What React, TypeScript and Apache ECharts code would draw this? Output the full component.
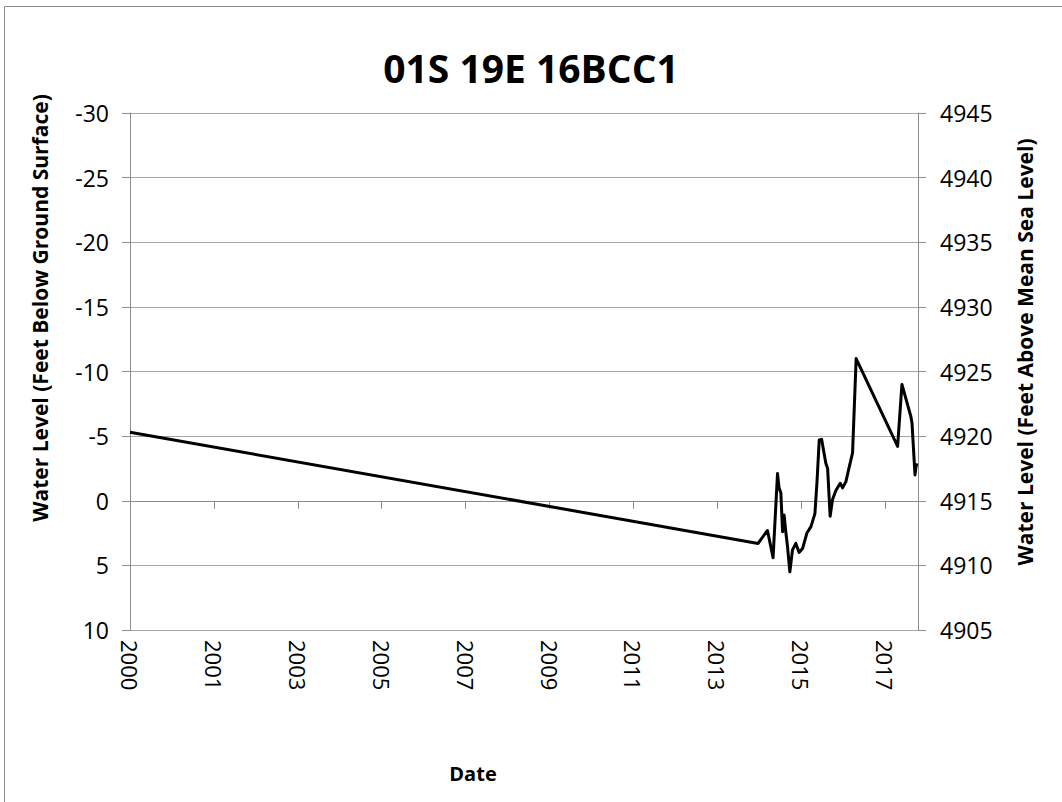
import React, { useEffect, useRef } from "react";
import * as echarts from "echarts";

const TITLE = "01S 19E 16BCC1";
const X_NAME = "Date";
const LEFT_NAME = "Water Level (Feet Below Ground Surface)";
const RIGHT_NAME = "Water Level (Feet Above Mean Sea Level)";

// Measurement dates and depth to water (feet below ground surface; negative = above)
const dates: string[] = [
  "2000-01-01", "2014-05-07", "2014-07-24", "2014-09-09", "2014-10-16", "2014-10-29",
  "2014-11-13", "2014-11-27", "2014-12-10", "2014-12-24", "2015-01-08", "2015-01-27",
  "2015-02-18", "2015-03-18", "2015-04-14", "2015-05-13", "2015-06-18", "2015-07-22",
  "2015-08-24", "2015-09-10", "2015-09-29", "2015-10-19", "2015-11-04", "2015-11-23",
  "2015-12-08", "2015-12-29", "2016-01-18", "2016-02-15", "2016-03-22", "2016-04-11",
  "2016-05-09", "2016-06-05", "2016-07-03", "2016-08-02", "2017-07-14", "2017-08-19",
  "2017-11-02", "2017-11-11", "2017-12-06", "2017-12-14", "2017-12-22",
];
const levels: number[] = [
  -5.3, 3.3, 2.3, 4.4, -2.1, -1.0,
  -0.6, 2.4, 1.1, 2.4, 3.6, 5.5,
  3.8, 3.3, 4.0, 3.7, 2.5, 2.0,
  1.0, -1.4, -4.7, -4.75, -3.9, -2.9,
  -2.5, 1.2, -0.1, -0.8, -1.35, -1.0,
  -1.5, -2.6, -3.7, -11.0, -4.2, -9.0,
  -6.5, -6.0, -2.0, -2.6, -2.9,
];

// Axis settings (x in days since 2000-01-01)
const X_START = "2000-01-01";
const X_END = "2017-12-31";
const X_STEP_DAYS = 700;
const LEFT_MIN = -30;
const LEFT_MAX = 10;
const RIGHT_MIN = 4905;
const RIGHT_MAX = 4945;
const Y_STEP = 5;

const DAY = 86400000;
const base = Date.parse(X_START + "T00:00:00Z");
const toDays = (s: string) => Math.round((Date.parse(s + "T00:00:00Z") - base) / DAY);

export default function App() {
  const ref = useRef<HTMLDivElement>(null);
  useEffect(() => {
    if (!ref.current) return;
    const chart = echarts.init(ref.current, undefined, { renderer: "svg" });
    const font = "'Open Sans', sans-serif";
    const gray = "#8c8c8c";
    const data = dates.map((d, i) => [toDays(d), levels[i]]);
    chart.setOption({
      animation: false,
      backgroundColor: "#ffffff",
      textStyle: { fontFamily: font },
      grid: { left: 130, right: 144, top: 113, bottom: 172, containLabel: false },
      xAxis: {
        type: "value",
        min: 0,
        max: toDays(X_END),
        interval: X_STEP_DAYS,
        axisLine: { show: true, lineStyle: { color: gray, width: 1 } },
        axisTick: { show: true, length: 8, lineStyle: { color: gray } },
        splitLine: { show: false },
        axisLabel: {
          rotate: -90,
          margin: 10,
          color: "#000",
          fontSize: 22,
          fontFamily: font,
          showMaxLabel: false,
          formatter: (v: number) => String(new Date(base + v * DAY).getUTCFullYear()),
        },
      },
      yAxis: [
        {
          type: "value",
          inverse: true,
          min: LEFT_MIN,
          max: LEFT_MAX,
          interval: Y_STEP,
          position: "left",
          axisLine: { show: true, lineStyle: { color: gray } },
          axisTick: { show: true, length: 8, lineStyle: { color: gray } },
          splitLine: { show: true, lineStyle: { color: "#a6a6a6", width: 1 } },
          axisLabel: {
            color: "#000",
            fontSize: 23,
            fontFamily: font,
            margin: 21,
            formatter: (v: number) => String(v),
          },
        },
        {
          type: "value",
          min: RIGHT_MIN,
          max: RIGHT_MAX,
          interval: Y_STEP,
          position: "right",
          axisLine: { show: true, lineStyle: { color: gray } },
          axisTick: { show: true, length: 8, lineStyle: { color: gray } },
          splitLine: { show: false },
          axisLabel: {
            color: "#000",
            fontSize: 23,
            fontFamily: font,
            margin: 22,
            formatter: (v: number) => String(v),
          },
        },
      ],
      series: [
        {
          type: "line",
          name: "Water Level",
          yAxisIndex: 0,
          data,
          showSymbol: false,
          symbol: "none",
          lineStyle: { color: "#000", width: 3, join: "round" },
        },
      ],
      graphic: [
        {
          type: "rect",
          shape: { x: 4.5, y: 6.5, width: 1100, height: 900 },
          style: { fill: "none", stroke: "#8a8a8a", lineWidth: 1 },
          silent: true,
        },
        {
          type: "text",
          x: 531,
          y: 67,
          style: {
            text: TITLE,
            font: `bold 39px ${font}`,
            fill: "#000",
            align: "center",
            verticalAlign: "middle",
          },
        },
        {
          type: "text",
          x: 473,
          y: 773,
          style: {
            text: X_NAME,
            font: `bold 20px ${font}`,
            fill: "#000",
            align: "center",
            verticalAlign: "middle",
          },
        },
        {
          type: "text",
          x: 40,
          y: 308,
          rotation: Math.PI / 2,
          style: {
            text: LEFT_NAME,
            font: `bold 21px ${font}`,
            fill: "#000",
            align: "center",
            verticalAlign: "middle",
          },
        },
        {
          type: "text",
          x: 1025,
          y: 352,
          rotation: Math.PI / 2,
          style: {
            text: RIGHT_NAME,
            font: `bold 21px ${font}`,
            fill: "#000",
            align: "center",
            verticalAlign: "middle",
          },
        },
      ],
    });
    return () => chart.dispose();
  }, []);
  return (
    <div
      ref={ref}
      style={{ position: "absolute", left: 0, top: 0, width: 1062, height: 802 }}
    />
  );
}
